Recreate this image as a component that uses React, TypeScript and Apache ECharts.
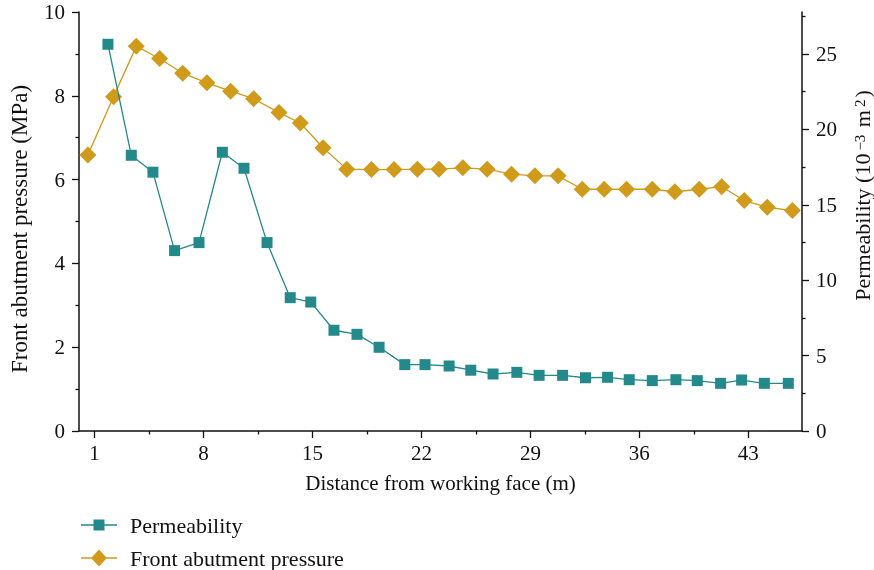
import React, { useEffect, useRef } from "react";
import * as echarts from "echarts";

// Distance from working face (m) for each measured point
const pressureX = [0.57, 2.22, 3.68, 5.18, 6.66, 8.22, 9.74, 11.22, 12.85, 14.22, 15.68, 17.2, 18.79, 20.24, 21.74, 23.13, 24.66, 26.22, 27.79, 29.29, 30.78, 32.33, 33.74, 35.18, 36.83, 38.28, 39.85, 41.29, 42.74, 44.22, 45.83];
// Front abutment pressure (MPa)
const pressureY = [6.59, 7.98, 9.18, 8.89, 8.54, 8.31, 8.11, 7.93, 7.6, 7.35, 6.76, 6.25, 6.24, 6.24, 6.25, 6.25, 6.28, 6.25, 6.13, 6.09, 6.09, 5.77, 5.77, 5.77, 5.77, 5.71, 5.77, 5.83, 5.5, 5.34, 5.26];

const permX = [1.86, 3.36, 4.75, 6.14, 7.71, 9.21, 10.6, 12.08, 13.57, 14.89, 16.38, 17.86, 19.28, 20.93, 22.23, 23.78, 25.17, 26.6, 28.13, 29.56, 31.07, 32.54, 33.96, 35.35, 36.83, 38.35, 39.72, 41.22, 42.57, 44.03, 45.57];
// Permeability (10^-3 m^2)
const permY = [25.64, 18.28, 17.16, 11.96, 12.49, 18.48, 17.42, 12.49, 8.84, 8.55, 6.68, 6.41, 5.55, 4.4, 4.4, 4.31, 4.03, 3.78, 3.89, 3.69, 3.69, 3.53, 3.56, 3.4, 3.34, 3.4, 3.34, 3.16, 3.38, 3.16, 3.16];

const xTicks = [1, 8, 15, 22, 29, 36, 43];
const xMinorTicks = [4.5, 11.5, 18.5, 25.5, 32.5, 39.5];
const rightTicks = [0, 5, 10, 15, 20, 25];
const rightMinorTicks = [2.5, 7.5, 12.5, 17.5, 22.5, 27.5];

const FONT = "Liberation Serif";
const TEAL = "#23898a";
const GOLD = "#d09b1b";
const BLACK = "#111";

// legend icons: line with marker, in a 36x20 box (corner points fix the box)
const SQUARE_ICON =
  "path://M0 0L0 0ZM36 20L36 20ZM0 9.35L12.5 9.35L12.5 4.5L23.5 4.5L23.5 9.35L36 9.35L36 10.65L23.5 10.65L23.5 15.5L12.5 15.5L12.5 10.65L0 10.65Z";
const DIAMOND_ICON =
  "path://M0 0L0 0ZM36 20L36 20ZM0 9.35L10.8 9.35L18 1.5L25.2 9.35L36 9.35L36 10.65L25.2 10.65L18 18.5L10.8 10.65L0 10.65Z";

export default function App() {
  const ref = useRef<HTMLDivElement>(null);
  useEffect(() => {
    if (!ref.current) return;
    const chart = echarts.init(ref.current, undefined, { renderer: "svg" });
    const axisLine = { show: true, onZero: false, lineStyle: { color: BLACK, width: 1.5 } };
    const tickLine = { color: BLACK, width: 1.3 };
    const label = { color: BLACK, fontFamily: FONT, fontSize: 21 };
    chart.setOption({
      animation: false,
      textStyle: { fontFamily: FONT },
      grid: { left: 79, right: 72, top: 12, bottom: 139, containLabel: false, outerBoundsMode: "none" },
      legend: {
        orient: "vertical",
        left: 81,
        top: 514,
        padding: 0,
        itemWidth: 36,
        itemHeight: 20,
        itemGap: 11,
        textStyle: { color: BLACK, fontFamily: FONT, fontSize: 22, padding: [0, 0, 0, 8] },
        data: [
          { name: "Permeability", icon: SQUARE_ICON },
          { name: "Front abutment pressure", icon: DIAMOND_ICON },
        ],
      },
      xAxis: [
        {
          type: "value",
          min: 0,
          max: 46.45,
          position: "bottom",
          name: "Distance from working face (m)",
          nameLocation: "middle",
          nameGap: 41,
          nameTextStyle: { color: BLACK, fontFamily: FONT, fontSize: 21 },
          axisLine,
          axisTick: { show: true, length: 7, lineStyle: tickLine, customValues: xTicks },
          axisLabel: { ...label, margin: 11, customValues: xTicks },
          splitLine: { show: false },
        },
        {
          type: "value",
          min: 0,
          max: 46.45,
          position: "bottom",
          axisLine: { show: false, onZero: false },
          axisTick: { show: true, length: 3.5, lineStyle: tickLine, customValues: xMinorTicks },
          axisLabel: { show: false },
          splitLine: { show: false },
        },
      ],
      yAxis: [
        {
          type: "value",
          min: 0,
          max: 10,
          interval: 2,
          position: "left",
          name: "Front abutment pressure (MPa)",
          nameLocation: "middle",
          nameRotate: 90,
          nameGap: 48,
          nameTextStyle: { color: BLACK, fontFamily: FONT, fontSize: 23, padding: [0, 15, 0, 0] },
          axisLine,
          axisTick: { show: true, length: 7, lineStyle: tickLine },
          minorTick: { show: true, splitNumber: 2, length: 3.5, lineStyle: tickLine },
          axisLabel: { ...label, margin: 14 },
          splitLine: { show: false },
        },
        {
          type: "value",
          min: 0,
          max: 27.78,
          position: "right",
          name: "Permeability (10{sup|−3} m{sup|2})",
          nameLocation: "middle",
          nameRotate: 90,
          nameGap: 50,
          nameTextStyle: {
            color: BLACK,
            fontFamily: FONT,
            fontSize: 22,
            lineHeight: 21,
            padding: [0, 0, 0, 52],
            rich: { sup: { fontSize: 15, fontFamily: FONT, color: BLACK, verticalAlign: "top", lineHeight: 21, padding: [0, 2, 0, 3] } },
          },
          axisLine,
          axisTick: { show: true, length: 7, lineStyle: tickLine, customValues: rightTicks },
          axisLabel: { ...label, margin: 14, customValues: rightTicks },
          splitLine: { show: false },
        },
        {
          type: "value",
          min: 0,
          max: 27.78,
          position: "right",
          axisLine: { show: false, onZero: false },
          axisTick: { show: true, length: 3.5, lineStyle: tickLine, customValues: rightMinorTicks },
          axisLabel: { show: false },
          splitLine: { show: false },
        },
      ],
      series: [
        {
          name: "Permeability",
          type: "line",
          xAxisIndex: 0,
          yAxisIndex: 1,
          data: permX.map((x, i) => [x, permY[i]]),
          symbol: "rect",
          symbolSize: 11,
          itemStyle: { color: TEAL },
          lineStyle: { color: TEAL, width: 1.3 },
          z: 3,
        },
        {
          name: "Front abutment pressure",
          type: "line",
          xAxisIndex: 0,
          yAxisIndex: 0,
          data: pressureX.map((x, i) => [x, pressureY[i]]),
          symbol: "diamond",
          symbolSize: 17,
          itemStyle: { color: GOLD },
          lineStyle: { color: GOLD, width: 1.3 },
          z: 2,
        },
      ],
    });
    return () => chart.dispose();
  }, []);
  return <div ref={ref} style={{ position: "fixed", left: 0, top: 0, width: 874, height: 570 }} />;
}
